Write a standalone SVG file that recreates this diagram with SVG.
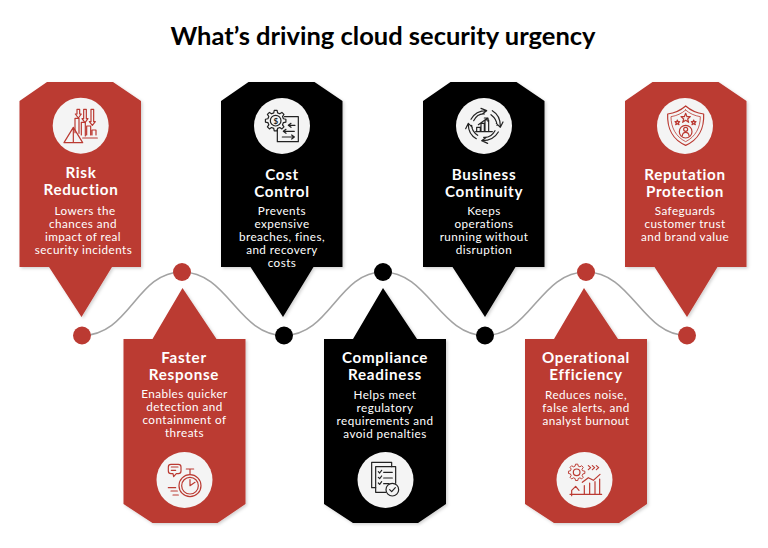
<svg xmlns="http://www.w3.org/2000/svg" width="768" height="548" viewBox="0 0 768 548">
<style>
text{font-family:"Lato","Liberation Sans",sans-serif;text-anchor:middle;fill:#fff}
.title{font-size:25.500px;font-weight:700;fill:#000}
.h{font-size:15.200px;font-weight:700;letter-spacing:.7px}
.b{font-size:11.700px;letter-spacing:.45px}
.red{fill:#bb3a32}
.blk{fill:#000}
.card{filter:url(#sh)}
.disc{fill:#f4f4f4}
.ir{fill:none;stroke:#bb3a32;stroke-width:3.6;stroke-linejoin:round;stroke-linecap:round}
.ik{fill:none;stroke:#222;stroke-width:3.6;stroke-linejoin:round;stroke-linecap:round}
.curve{fill:none;stroke:#a3a3a3;stroke-width:1.6}
.dollar{font-size:8px;font-weight:700;letter-spacing:0;fill:#222}
</style>
<defs>
<filter id="sh" x="-10%" y="-10%" width="125%" height="125%"><feDropShadow dx="1.5" dy="1.5" stdDeviation="1.5" flood-color="#000" flood-opacity=".18"/></filter>
<path id="gear" d="M23.3-5.8L30.7-4.3V4.3L23.3 5.8L20.6 12.4L24.8 18.7L18.7 24.8L12.4 20.6L5.8 23.3L4.3 30.7H-4.3L-5.8 23.3L-12.4 20.6L-18.7 24.8L-24.8 18.7L-20.6 12.4L-23.3 5.8L-30.7 4.3V-4.3L-23.3-5.8L-20.6-12.4L-24.8-18.7L-18.7-24.8L-12.4-20.6L-5.8-23.3L-4.3-30.7H4.3L5.8-23.3L12.4-20.6L18.7-24.8L24.8-18.7L20.6-12.4Z"/>
<path id="top" d="M0 19L27.500 0H93.500L121.500 19V185H92.500L62 235L29.500 185H0Z"/>
<path id="bot" d="M0 51H29L59 0L93 51H122V216L94 235H29L0 216Z"/>
</defs>
<text class="title" x="383" y="45">What’s driving cloud security urgency</text>

<g id="connectors">
<path class="curve" d="M82 335.500C130 335.500 136 272 182 272S238 335.500 284 335.500S338 272 383 272S440 335.500 485 335.500S540 272 586 272S642 335.500 687 335.500"/>
<circle class="red" cx="82" cy="335.500" r="9"/>
<circle class="red" cx="182" cy="272" r="9"/>
<circle class="blk" cx="284" cy="335.500" r="9"/>
<circle class="blk" cx="383" cy="272" r="9"/>
<circle class="blk" cx="485" cy="335.500" r="9"/>
<circle class="red" cx="586" cy="272" r="9"/>
<circle class="red" cx="687" cy="335.500" r="9"/>
</g>

<g id="risk-reduction">
<use href="#top" class="red card" transform="translate(19.500,82)"/>
<circle class="disc" cx="80.700" cy="125.700" r="28"/>
<g class="ir" transform="translate(40,90) scale(.3333)">
<path d="M100 112L72 158H128ZM100 112V158M128 144H172"/>
<path d="M105 128V85H117V130M124 135V97H136V138M140 135V108H152V135M156 135V120H168V135"/>
<path d="M111 58H119V72H124L115 84L106 72H111ZM131 58H139V86H144L135 98L126 86H131ZM153 58H161V95H166L157 106L148 95H153Z"/>
</g>
<text class="h" x="81" y="177.500">Risk</text>
<text class="h" x="81" y="195">Reduction</text>
<text class="b" x="85" y="215">Lowers the</text>
<text class="b" x="83" y="228">chances and</text>
<text class="b" x="83" y="241">impact of real</text>
<text class="b" x="83.500" y="254">security incidents</text>
</g>

<g id="faster-response">
<use href="#bot" class="red card" transform="translate(123.500,288)"/>
<circle class="disc" cx="184.500" cy="480" r="28"/>
<g class="ir" transform="translate(145,445) scale(.3333)">
<path d="M78 58H100Q108 58 108 66V78Q108 86 100 86H94L86 95L84 86H78Q70 86 70 78V66Q70 58 78 58ZM79 66H99M79 76H92"/>
<circle cx="135" cy="122" r="33"/>
<circle cx="135" cy="122" r="25"/>
<path d="M124 72H146M135 72V88M135 122V104M135 122L150 112M70 128H92M78 138H97M84 150H100"/>
</g>
<text class="h" x="184" y="363">Faster</text>
<text class="h" x="184" y="380">Response</text>
<text class="b" x="184.500" y="398">Enables quicker</text>
<text class="b" x="184.500" y="411">detection and</text>
<text class="b" x="184.500" y="424">containment of</text>
<text class="b" x="184.500" y="437">threats</text>
</g>

<g id="cost-control">
<use href="#top" class="blk card" transform="translate(221,82)"/>
<circle class="disc" cx="282" cy="126" r="28"/>
<g class="ik" transform="translate(245,90) scale(.3333)">
<path d="M118 80H160V155H97V118"/>
<use href="#gear" transform="translate(92,92)"/>
<circle cx="92" cy="92" r="16"/>
<path d="M130 106H150M130 106L138 100M130 106L138 112M115 124H148M115 124L123 118M115 124L123 130M112 141H148M148 141L140 135M148 141L140 147"/>
</g>
<text class="dollar" x="275.700" y="123.500">$</text>
<text class="h" x="282" y="179.500">Cost</text>
<text class="h" x="282" y="196.500">Control</text>
<text class="b" x="282" y="215">Prevents</text>
<text class="b" x="282" y="228">expensive</text>
<text class="b" x="282" y="241">breaches, fines,</text>
<text class="b" x="282" y="254">and recovery</text>
<text class="b" x="282" y="267">costs</text>
</g>

<g id="compliance-readiness">
<use href="#bot" class="blk card" transform="translate(324,288)"/>
<circle class="disc" cx="385.500" cy="480" r="28"/>
<g class="ik" transform="translate(345,445) scale(.3333)">
<path d="M92 128H80V52H140V65"/>
<path d="M122 142H92V65H152V115"/>
<path d="M100 80L104 84L110 76M100 97L104 101L110 93M100 114L104 118L110 110M116 82H142M116 99H142M116 116H132"/>
<circle cx="142" cy="134" r="19"/>
<path d="M134 134L140 140L151 128"/>
</g>
<text class="h" x="385" y="363">Compliance</text>
<text class="h" x="385" y="380">Readiness</text>
<text class="b" x="385" y="399">Helps meet</text>
<text class="b" x="385" y="412">regulatory</text>
<text class="b" x="385" y="425">requirements and</text>
<text class="b" x="385" y="438">avoid penalties</text>
</g>

<g id="business-continuity">
<use href="#top" class="blk card" transform="translate(423,82)"/>
<circle class="disc" cx="484" cy="126" r="28"/>
<g class="ik" transform="translate(445,90) scale(.3333)">
<path d="M78 88Q92 62 125 62M108 55L125 62L112 72M118 72Q98 70 86 92"/>
<path d="M142 62Q166 76 166 108M174 96L166 112L154 100M156 106Q156 88 138 74"/>
<path d="M160 126Q145 152 112 152M128 160L110 152L124 142M116 142Q138 144 150 122"/>
<path d="M94 146Q70 132 70 104M62 116L70 100L82 112M80 106Q80 124 98 136"/>
<path d="M95 125V112H106V125M108 125V100H118V125M120 125V90H131V125M92 125H142M100 104L128 84M118 84H129V94"/>
</g>
<text class="h" x="484" y="179.500">Business</text>
<text class="h" x="484" y="196.500">Continuity</text>
<text class="b" x="484" y="215">Keeps</text>
<text class="b" x="484" y="228">operations</text>
<text class="b" x="484" y="241">running without</text>
<text class="b" x="484" y="254">disruption</text>
</g>

<g id="operational-efficiency">
<use href="#bot" class="red card" transform="translate(525,288)"/>
<circle class="disc" cx="584.500" cy="480" r="28"/>
<g class="ir" transform="translate(545,445) scale(.3333)">
<use href="#gear" transform="translate(95,82) scale(.8)"/>
<circle cx="95" cy="82" r="10"/>
<path d="M130 62L137 68L130 74M142 62L149 68L142 74M154 62L161 68L154 74"/>
<path d="M112 112L130 98L145 106L165 88"/>
<path d="M80 152V136L92 124L102 136M75 148H170M118 148V122M134 148V114M150 148V110M164 148V102"/>
</g>
<text class="h" x="586" y="363">Operational</text>
<text class="h" x="586" y="380">Efficiency</text>
<text class="b" x="586" y="399">Reduces noise,</text>
<text class="b" x="586" y="412">false alerts, and</text>
<text class="b" x="586" y="425">analyst burnout</text>
</g>

<g id="reputation-protection">
<use href="#top" class="red card" transform="translate(625,82)"/>
<circle class="disc" cx="685" cy="126" r="28"/>
<g class="ir" transform="translate(645,90) scale(.3333)">
<path d="M122 48Q145 68 176 72C178 115 160 150 122 166C84 150 66 115 68 72Q99 68 122 48Z"/>
<path d="M122 60Q140 76 166 80C166 112 152 140 122 155C92 140 78 112 78 80Q104 76 122 60Z" stroke-width="2.400"/>
<path d="M122 70L126 80H136L128 87L131 97L122 91L113 97L116 87L108 80H118Z"/>
<path d="M97 90L99 95H104L100 99L102 104L97 101L92 104L94 99L90 95H95ZM146 90L148 95H153L149 99L151 104L146 101L141 104L143 99L139 95H144Z"/>
<circle cx="122" cy="125" r="19"/>
<circle cx="122" cy="118" r="6"/>
<path d="M112 137Q113 127 122 127Q131 127 132 137"/>
</g>
<text class="h" x="685" y="179.500">Reputation</text>
<text class="h" x="685" y="196.500">Protection</text>
<text class="b" x="685" y="215">Safeguards</text>
<text class="b" x="685" y="228">customer trust</text>
<text class="b" x="685" y="241">and brand value</text>
</g>
</svg>
